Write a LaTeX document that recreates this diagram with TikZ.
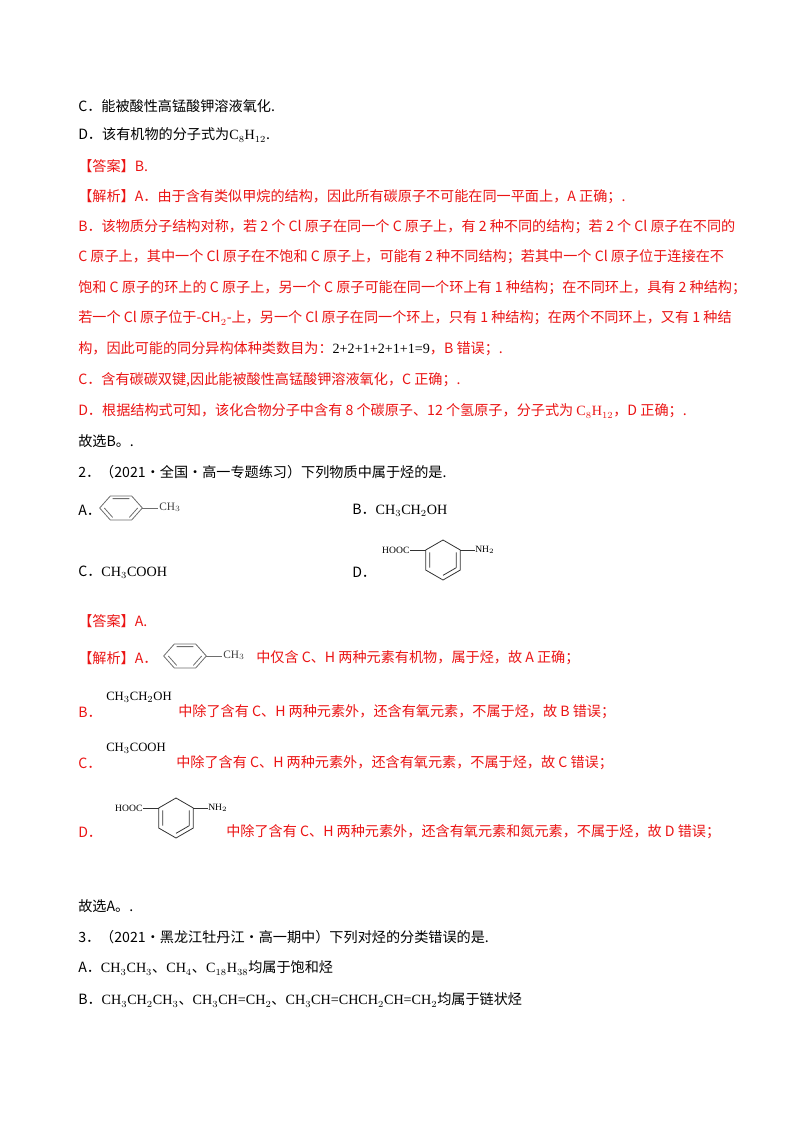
\documentclass[tikz,border=0pt]{standalone}
\usepackage{fontspec}
\setmainfont{Noto Sans CJK SC}
\newfontfamily\latf{Liberation Serif}
\definecolor{ans}{RGB}{235,20,20}
\definecolor{ring}{RGB}{110,110,110}
\tikzset{
 ln/.style={anchor=west,inner sep=0pt,font=\fontsize{10.6}{12}\selectfont},
 rd/.style={ln,text=ans},
 sm/.style={anchor=west,inner sep=0pt,font=\latf\fontsize{8}{9}\selectfont},
 toluene/.pic={
   \begin{scope}[yscale=0.65]
   \draw[ring,line width=0.6pt] (0:16pt)--(60:16pt)--(120:16pt)--(180:16pt)--(240:16pt)--(300:16pt)--cycle;
   \draw[ring,line width=0.6pt] (60:12.5pt)--(120:12.5pt) (180:12.5pt)--(240:12.5pt) (300:12.5pt)--(0:12.5pt);
   \end{scope}
   \draw[ring,line width=0.6pt] (16pt,0)--(28pt,0);
   \node[sm,text=black!75,font=\latf\fontsize{8.5}{9}\selectfont] at (28.5pt,0.5pt) {CH$_3$};},
 amino/.pic={
   \draw[black!80,line width=0.6pt] (30:15pt)--(90:15pt)--(150:15pt)--(210:15pt)--(270:15pt)--(330:15pt)--cycle;
   \draw[black!80,line width=0.6pt] (150:11.5pt)--(210:11.5pt) (30:11.5pt)--(330:11.5pt) (270:11.5pt)--(330:11.5pt);
   \draw[black!80,line width=0.6pt] (150:15pt)--++(-12pt,0) coordinate (hl);
   \draw[black!80,line width=0.6pt] (30:15pt)--++(11pt,0) coordinate (hr);
   \node[sm,anchor=east,font=\latf\fontsize{7.2}{8}\selectfont] at (hl) {HOOC};
   \node[sm,font=\latf\fontsize{7.2}{8}\selectfont] at (hr) {NH$_2$};}
}
\begin{document}
\begin{tikzpicture}[x=0.75pt,y=-0.75pt]
\useasboundingbox[fill=white] (0,0) rectangle (800,1132);
\node[ln] (l1) at (78,106) {C．能被酸性高锰酸钾溶液氧化.};
\node[ln] (l2) at (78,135) {D．该有机物的分子式为{\latf C$_8$H$_{12}$}.};
\node[rd] (l3) at (78,166) {【答案】B.};
\node[rd] (l4) at (78,197) {【解析】A．由于含有类似甲烷的结构，因此所有碳原子不可能在同一平面上，A 正确；.};
\node[rd] (l5) at (78,227) {B．该物质分子结构对称，若 2 个 Cl 原子在同一个 C 原子上，有 2 种不同的结构；若 2 个 Cl 原子在不同的};
\node[rd] (l6) at (78,257) {C 原子上，其中一个 Cl 原子在不饱和 C 原子上，可能有 2 种不同结构；若其中一个 Cl 原子位于连接在不};
\node[rd] (l7) at (78,288) {饱和 C 原子的环上的 C 原子上，另一个 C 原子可能在同一个环上有 1 种结构；在不同环上，具有 2 种结构；};
\node[rd] (l8) at (78,318) {若一个 Cl 原子位于-CH$_2$-上，另一个 Cl 原子在同一个环上，只有 1 种结构；在两个不同环上，又有 1 种结};
\node[rd] (l9) at (78,349) {构，因此可能的同分异构体种类数目为：{\latf\color{black} 2+2+1+2+1+1=9}，B 错误；.};
\node[rd] (l10) at (78,380) {C．含有碳碳双键,因此能被酸性高锰酸钾溶液氧化，C 正确；.};
\node[rd] (l11) at (78,411) {D．根据结构式可知，该化合物分子中含有 8 个碳原子、12 个氢原子，分子式为 {\latf C$_8$H$_{12}$}，D 正确；.};
\node[ln] (l12) at (78,441) {故选B。.};
\node[ln] (l13) at (78,472) {2．（2021·全国·高一专题练习）下列物质中属于烃的是.};
\node[ln] (qa) at (78,510) {A．};
\pic at (121,508) {toluene};
\node[ln] (qb) at (352,510) {B．{\latf CH$_3$CH$_2$OH}};
\node[ln] (qc) at (78,572) {C．{\latf CH$_3$COOH}};
\node[ln] (qd) at (352,572) {D．};
\pic at (443,560) {amino};
\node[rd] (a2) at (78,621) {【答案】A.};
\node[rd] (j1) at (78,658) {【解析】A．};
\pic at (185,656) {toluene};
\node[rd] (j1b) at (256,658) {中仅含 C、H 两种元素有机物，属于烃，故 A 正确；};
\node[rd] (j2) at (78,712) {B．};
\node[sm,font=\latf\fontsize{9.5}{11}\selectfont] (f2) at (106,697) {CH$_3$CH$_2$OH};
\node[rd] (j2b) at (178,712) {中除了含有 C、H 两种元素外，还含有氧元素，不属于烃，故 B 错误；};
\node[rd] (j3) at (78,763) {C．};
\node[sm,font=\latf\fontsize{9.5}{11}\selectfont] (f3) at (106,748) {CH$_3$COOH};
\node[rd] (j3b) at (176,763) {中除了含有 C、H 两种元素外，还含有氧元素，不属于烃，故 C 错误；};
\node[rd] (j4) at (78,832) {D．};
\pic at (176,818) {amino};
\node[rd] (j4b) at (226,832) {中除了含有 C、H 两种元素外，还含有氧元素和氮元素，不属于烃，故 D 错误；};
\node[ln] (l14) at (78,906) {故选A。.};
\node[ln] (l15) at (78,937) {3．（2021·黑龙江牡丹江·高一期中）下列对烃的分类错误的是.};
\node[ln] (l16) at (78,968) {A．{\latf CH$_3$CH$_3$}、{\latf CH$_4$}、{\latf C$_{18}$H$_{38}$}均属于饱和烃};
\node[ln] (l17) at (78,1000) {B．{\latf CH$_3$CH$_2$CH$_3$}、{\latf CH$_3$CH=CH$_2$}、{\latf CH$_3$CH=CHCH$_2$CH=CH$_2$}均属于链状烃};
\end{tikzpicture}
\end{document}
